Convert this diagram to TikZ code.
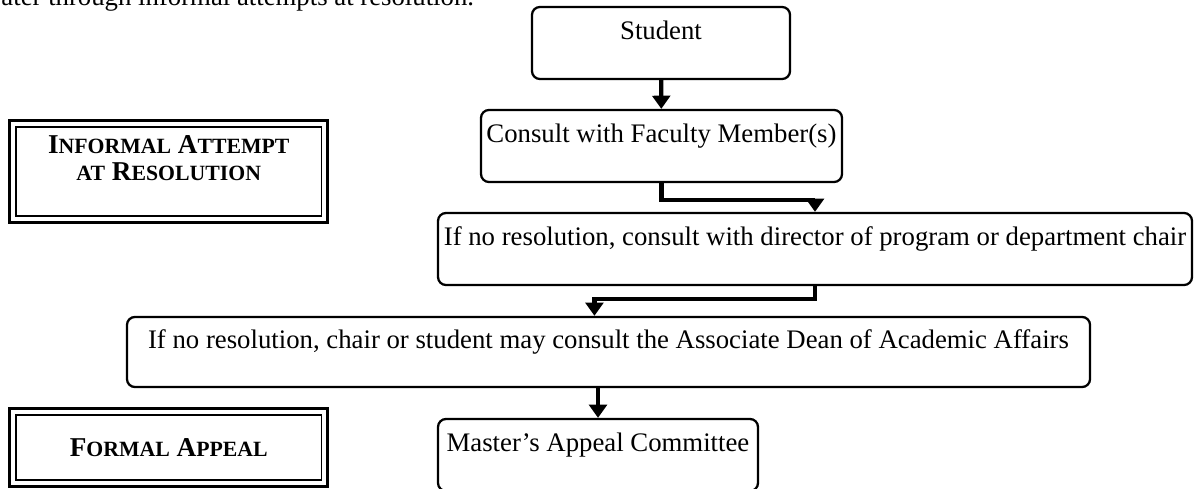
\documentclass[tikz,border=0pt]{standalone}
\usepackage{fontspec}
\setmainfont{Liberation Serif}
\usetikzlibrary{arrows.meta}
% faked small capitals (the font has none)
\newcommand{\fakesc}[2]{#1{\fontsize{9.6}{12}\selectfont #2}}
\tikzset{
  stepbox/.style={draw, line width=1pt, rounded corners=3.5pt, align=center,
    inner sep=0pt, font=\fontsize{11.8}{14}\selectfont},
  framebox/.style={draw, line width=0.7pt, align=center, inner sep=0pt,
    font=\fontsize{12}{12}\selectfont\bfseries},
  flow/.style={line width=1.9pt, -{Triangle[width=7.8pt,length=5.8pt]}}
}
\begin{document}
\begin{tikzpicture}[x=0.441pt, y=-0.441pt]
                \useasboundingbox (0,0) rectangle (1194,489);
                \clip (0,0) rectangle (1194,489);
                
                % Text running in from the page above
                \node [anchor=base west, inner sep=0pt, font=\fontsize{11.8}{14}\selectfont] (intro) at (1,5.5) {ater through informal attempts at resolution.};
                
                % Steps of the procedure
                \node [stepbox, minimum width=113.8pt, minimum height=31.75pt] (student) at (661,43) {Student\\[-3pt]\mbox{}};
                \node [stepbox, minimum width=159.2pt, minimum height=31.75pt] (faculty) at (661.5,146) {Consult with Faculty Member(s)\\[-3pt]\mbox{}};
                \node [stepbox, minimum width=332.5pt, minimum height=31.75pt] (director) at (815,249) {If no resolution, consult with director of program or department chair\\[-3pt]\mbox{}};
                \node [stepbox, minimum width=424.7pt, minimum height=30.9pt] (dean) at (608.5,352) {If no resolution, chair or student may consult the Associate Dean of Academic Affairs\\[-3pt]\mbox{}};
                \node [stepbox, minimum width=141.1pt, minimum height=31.75pt] (committee) at (598,455) {Master's Appeal Committee\\[-3pt]\mbox{}};
                
                % Arrows between the steps
                \draw [flow] (student) -- (faculty);
                \draw [flow] (faculty.south) -- ++(0,17) -| (director.north);
                \draw [flow] (director.south) -- ++(0,13) -| ([xshift=-6.2pt]dean.north);
                \draw [flow] (dean.south -| committee.north) -- (committee.north);
                
                % Headings on the left, double frames
                \node [framebox, minimum width=134.7pt, minimum height=39.25pt] (informal) at (168.75,171.5) {\fakesc{I}{NFORMAL} \fakesc{A}{TTEMPT}\\\fakesc{}{AT} \fakesc{R}{ESOLUTION}\\\mbox{}};
                \draw [line width=1.4pt] ([xshift=-2.4pt,yshift=2.4pt]informal.north west) rectangle ([xshift=2.4pt,yshift=-2.4pt]informal.south east);
                
                \node [framebox, minimum width=134.7pt, minimum height=28.7pt] (formal) at (168.75,447.5) {\fakesc{F}{ORMAL} \fakesc{A}{PPEAL}};
                \draw [line width=1.4pt] ([xshift=-2.4pt,yshift=2.4pt]formal.north west) rectangle ([xshift=2.4pt,yshift=-2.4pt]formal.south east);
\end{tikzpicture}
\end{document}
